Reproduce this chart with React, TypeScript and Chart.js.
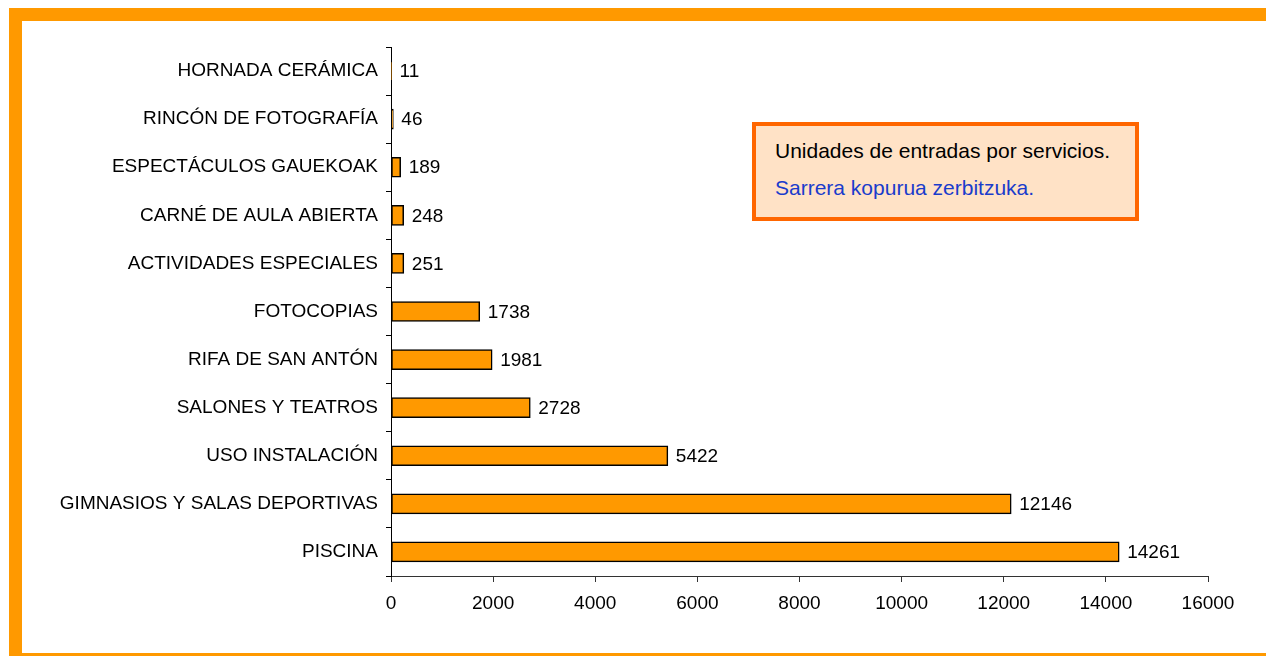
import React, { useEffect, useRef } from "react";
import { Chart, registerables } from "chart.js";

Chart.register(...registerables);

const categories = [
  "HORNADA CERÁMICA",
  "RINCÓN DE FOTOGRAFÍA",
  "ESPECTÁCULOS GAUEKOAK",
  "CARNÉ DE AULA ABIERTA",
  "ACTIVIDADES ESPECIALES",
  "FOTOCOPIAS",
  "RIFA DE SAN ANTÓN",
  "SALONES Y TEATROS",
  "USO INSTALACIÓN",
  "GIMNASIOS Y SALAS DEPORTIVAS",
  "PISCINA",
];
const values = [11, 46, 189, 248, 251, 1738, 1981, 2728, 5422, 12146, 14261];
const xMin = 0;
const xMax = 16000;
const xStep = 2000;
const noteLines = ["Unidades de entradas por servicios.", "Sarrera kopurua zerbitzuka."];

const FONT = "'Liberation Sans', Arial, sans-serif";

const valueLabels = {
  id: "valueLabels",
  afterDatasetsDraw(chart: any) {
    const ctx = chart.ctx;
    const meta = chart.getDatasetMeta(0);
    ctx.save();
    ctx.font = `19px ${FONT}`;
    ctx.fillStyle = "#000";
    ctx.textAlign = "left";
    ctx.textBaseline = "middle";
    meta.data.forEach((bar: any, i: number) => {
      const v = chart.data.datasets[0].data[i];
      ctx.fillText(String(v), bar.x + 8, bar.y + 1);
    });
    ctx.restore();
  },
};

export default function App() {
  const ref = useRef<HTMLCanvasElement>(null);
  useEffect(() => {
    if (!ref.current) return;
    const chart = new Chart(ref.current, {
      type: "bar",
      data: {
        labels: categories,
        datasets: [
          {
            data: values,
            backgroundColor: "#FF9900",
            borderColor: "#000",
            borderWidth: 1.5,
            borderSkipped: false,
            barThickness: 20,
          },
        ],
      },
      options: {
        indexAxis: "y",
        responsive: false,
        animation: false,
        layout: { padding: { left: 30, right: 58, top: 47, bottom: 30 } },
        plugins: { legend: { display: false }, tooltip: { enabled: false } },
        scales: {
          x: {
            min: xMin,
            max: xMax,
            ticks: {
              stepSize: xStep,
              color: "#000",
              font: { family: FONT, size: 19 },
              padding: 10,
              maxRotation: 0,
              callback: (v: any) => String(v),
            },
            grid: { drawOnChartArea: false, drawTicks: true, tickLength: 6, color: "#333" },
            border: { display: true, color: "#333", width: 1 },
            afterFit: (s: any) => {
              s.height = 50;
            },
          },
          y: {
            ticks: {
              color: "#000",
              font: { family: FONT, size: 19 },
              padding: 8,
              autoSkip: false,
            },
            grid: { drawOnChartArea: false, drawTicks: true, tickLength: 5, color: "#000", offset: true },
            border: { display: true, color: "#000", width: 1 },
            afterFit: (s: any) => {
              s.width = 361;
            },
          },
        },
      },
      plugins: [valueLabels],
    });
    return () => chart.destroy();
  }, []);

  return (
    <div style={{ position: "fixed", left: 0, top: 0, width: 1266, height: 656, background: "#fff", overflow: "hidden" }}>
      <canvas ref={ref} width={1266} height={656} style={{ position: "absolute", left: 0, top: 0 }} />
      <div style={{ position: "absolute", left: 9, top: 8, width: 1300, height: 13, background: "#FF9900" }} />
      <div style={{ position: "absolute", left: 9, top: 8, width: 13, height: 660, background: "#FF9900" }} />
      <div style={{ position: "absolute", left: 9, top: 653, width: 1300, height: 4, background: "#FF9900" }} />
      <div
        style={{
          position: "absolute",
          left: 752,
          top: 122,
          width: 387,
          height: 99,
          boxSizing: "border-box",
          border: "4px solid #FF6600",
          background: "#FFE2C6",
          fontFamily: FONT,
          fontSize: 21,
        }}
      >
        <div style={{ position: "absolute", left: 19, top: 13, color: "#000", whiteSpace: "nowrap" }}>{noteLines[0]}</div>
        <div style={{ position: "absolute", left: 19, top: 50, color: "#1A3CCC", whiteSpace: "nowrap" }}>{noteLines[1]}</div>
      </div>
    </div>
  );
}
